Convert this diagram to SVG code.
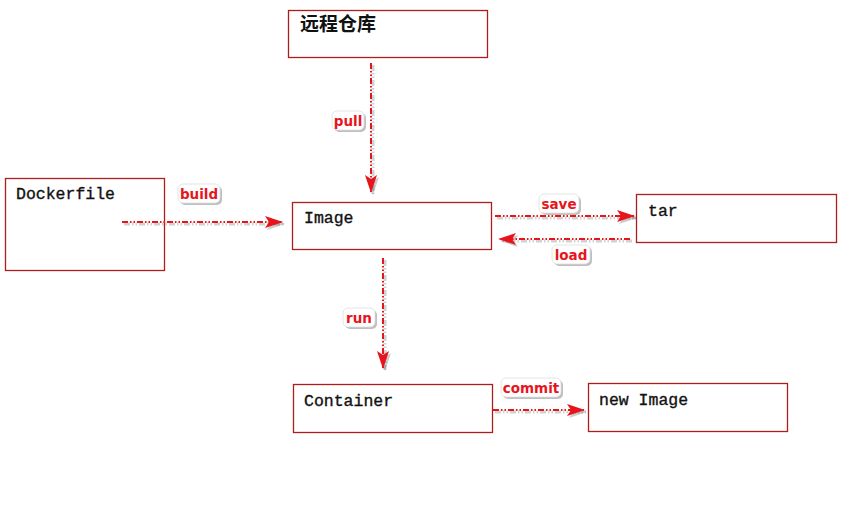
<svg xmlns="http://www.w3.org/2000/svg" width="851" height="516" viewBox="0 0 851 516">
<style>
.box{fill:#fff;stroke:#b01c1c;stroke-width:1.3}
.t{font-family:"Liberation Mono","Courier New",monospace;font-size:16.5px;fill:#111;stroke:#111;stroke-width:0.35}
.cjk{font-family:"Noto Sans CJK SC","Noto Sans",sans-serif;font-size:19px;font-weight:bold;fill:#111}
.ln{stroke:#e8141c;stroke-width:2;fill:none;stroke-dasharray:6 2 1.5 2 1.5 2}
.sh{stroke:#000;stroke-opacity:0.18;stroke-width:3;fill:none;stroke-dasharray:6 2 1.5 2 1.5 2}
.lb{fill:#fff;stroke:#ddd;stroke-width:0.8}
.lbs{fill:#000;fill-opacity:0.25}
.lt{font-family:"DejaVu Sans",Verdana,sans-serif;font-size:13.5px;font-weight:bold;fill:#e8141c}
</style>
<defs>
<marker id="ah" viewBox="0 0 18 12" refX="17" refY="6" markerWidth="18" markerHeight="12" markerUnits="userSpaceOnUse" orient="auto">
<path d="M0,0 L18,6 L0,12 L4,6 Z" fill="#e8141c"/>
</marker>
<marker id="ahs" viewBox="0 0 18 12" refX="17" refY="6" markerWidth="18" markerHeight="12" markerUnits="userSpaceOnUse" orient="auto">
<path d="M0,0 L18,6 L0,12 L4,6 Z" fill="#000" fill-opacity="0.2"/>
</marker>
</defs>
<rect width="851" height="516" fill="#fff"/>
<g id="remote"><rect class="box" x="288.5" y="10.5" width="199" height="47"/><text class="cjk" x="300" y="31">远程仓库</text></g>
<g id="dockerfile"><rect class="box" x="5.5" y="178.5" width="159" height="92"/><text class="t" x="16" y="199">Dockerfile</text></g>
<g id="image"><rect class="box" x="292.5" y="202.5" width="199" height="47"/><text class="t" x="304" y="223">Image</text></g>
<g id="tar"><rect class="box" x="636.5" y="194.5" width="200" height="48"/><text class="t" x="648" y="216">tar</text></g>
<g id="container"><rect class="box" x="293.5" y="384.5" width="199" height="48"/><text class="t" x="304" y="406">Container</text></g>
<g id="newimage"><rect class="box" x="588.5" y="383.5" width="199" height="48"/><text class="t" x="599" y="405">new Image</text></g>
<g id="connectors">
<line class="sh" x1="373" y1="65" x2="373" y2="194" marker-end="url(#ahs)"/>
<line class="ln" x1="371" y1="63" x2="371" y2="192" marker-end="url(#ah)"/>
<line class="sh" x1="124" y1="224" x2="284" y2="224" marker-end="url(#ahs)"/>
<line class="ln" x1="122" y1="222" x2="282" y2="222" marker-end="url(#ah)"/>
<line class="sh" x1="497" y1="218" x2="636" y2="218" marker-end="url(#ahs)"/>
<line class="ln" x1="495" y1="216" x2="634" y2="216" marker-end="url(#ah)"/>
<line class="sh" x1="632" y1="241" x2="501" y2="241" marker-end="url(#ahs)"/>
<line class="ln" x1="630" y1="239" x2="499" y2="239" marker-end="url(#ah)"/>
<line class="sh" x1="385" y1="260" x2="385" y2="370" marker-end="url(#ahs)"/>
<line class="ln" x1="383" y1="258" x2="383" y2="368" marker-end="url(#ah)"/>
<line class="sh" x1="495" y1="412" x2="586" y2="412" marker-end="url(#ahs)"/>
<line class="ln" x1="493" y1="410" x2="584" y2="410" marker-end="url(#ah)"/>
<g id="lbl-pull"><rect class="lbs" x="334" y="113" width="32" height="19" rx="5"/><rect class="lb" x="332" y="111" width="32" height="19" rx="5"/><text class="lt" x="348" y="125.5" text-anchor="middle">pull</text></g>
<g id="lbl-build"><rect class="lbs" x="180" y="186" width="42" height="19" rx="5"/><rect class="lb" x="178" y="184" width="42" height="19" rx="5"/><text class="lt" x="199" y="198.5" text-anchor="middle">build</text></g>
<g id="lbl-save"><rect class="lbs" x="541" y="196" width="40" height="19" rx="5"/><rect class="lb" x="539" y="194" width="40" height="19" rx="5"/><text class="lt" x="559" y="208.5" text-anchor="middle">save</text></g>
<g id="lbl-load"><rect class="lbs" x="554" y="247" width="38" height="19" rx="5"/><rect class="lb" x="552" y="245" width="38" height="19" rx="5"/><text class="lt" x="571" y="259.5" text-anchor="middle">load</text></g>
<g id="lbl-run"><rect class="lbs" x="345" y="310" width="32" height="19" rx="5"/><rect class="lb" x="343" y="308" width="32" height="19" rx="5"/><text class="lt" x="359" y="322.5" text-anchor="middle">run</text></g>
<g id="lbl-commit"><rect class="lbs" x="503" y="380" width="60" height="19" rx="5"/><rect class="lb" x="501" y="378" width="60" height="19" rx="5"/><text class="lt" x="531" y="392.5" text-anchor="middle">commit</text></g>
</g>
</svg>
